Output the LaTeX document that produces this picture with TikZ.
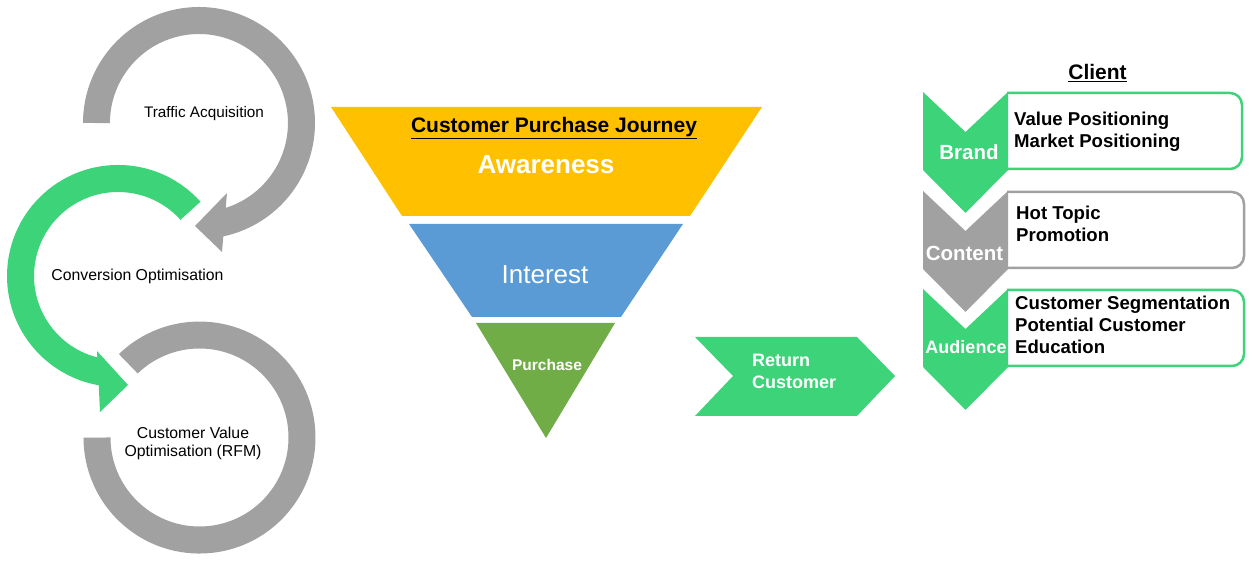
\documentclass[tikz,border=0pt]{standalone}
\usepackage{fontspec}
\setmainfont{Liberation Sans}
\definecolor{cgray}{RGB}{160,161,160}
\definecolor{cgreen}{RGB}{61,211,121}
\definecolor{cyellow}{RGB}{255,192,0}
\definecolor{cblue}{RGB}{91,155,213}
\definecolor{cpgreen}{RGB}{112,173,71}
\begin{document}
\begin{tikzpicture}[x=1pt,y=1pt,
  lbl/.style={inner sep=0pt, font=\fontsize{15.8}{18.5}\selectfont, align=center, text=black},
  wlbl/.style={inner sep=0pt, text=white, align=center},
  boxtxt/.style={inner sep=0pt, anchor=west, align=left, text=black, font=\bfseries\fontsize{18.6}{22}\selectfont},
  infobox/.style={line width=2.5, rounded corners=12}]
\useasboundingbox (0,0) rectangle (1254,561);

% ---- left cycle arrows ----
\fill[cgray] (83,438) arc[start angle=180,end angle=-77.9,radius=116]
  -- (222,309) -- (195,335) -- (227,368) -- (225.7,353.1)
  arc[start angle=-72.5,end angle=180,radius=89] -- cycle;
\fill[cgreen] (200.5,359.3) arc[start angle=42,end angle=260,radius=111]
  -- (100,149) -- (128,176) -- (97,210) -- (97.3,203.6)
  arc[start angle=255.7,end angle=42,radius=84] -- cycle;
\fill[cgray] (118.9,206.9) arc[start angle=134,end angle=-180,radius=116]
  -- (110.5,123.5) arc[start angle=-180,end angle=134,radius=89] -- cycle;

\node[lbl, font=\fontsize{15.3}{18}\selectfont] (ta) at (204,447.5) {Traffic Acquisition};
\node[lbl] (co) at (137.5,284.5) {Conversion Optimisation};
\node[lbl] (cv) at (193,117.5) {Customer Value\\Optimisation (RFM)};

% ---- funnel ----
\fill[cyellow] (331,454) -- (762,454) -- (690,345) -- (402,345) -- cycle;
\fill[cblue] (409,337) -- (683,337) -- (621,244) -- (472,244) -- cycle;
\fill[cpgreen] (476,238) -- (615,238) -- (546,123) -- cycle;

\node[inner sep=0pt, text=black, font=\bfseries\fontsize{21}{25}\selectfont] (title) at (554,433) {\underline{Customer Purchase Journey}};
\node[wlbl, font=\bfseries\fontsize{26}{30}\selectfont] (aw) at (546,396) {Awareness};
\node[wlbl, font=\fontsize{26}{30}\selectfont] (in) at (545,286) {Interest};
\node[wlbl, font=\bfseries\fontsize{15.5}{18}\selectfont] (pu) at (547,196) {Purchase};

% ---- return customer ----
\fill[cgreen] (695,224) -- (857,224) -- (895,185) -- (857,145) -- (695,145) -- (733,185) -- cycle;
\node[wlbl, anchor=west, align=left, font=\bfseries\fontsize{18}{22}\selectfont] (rc) at (752,190) {Return\\Customer};

% ---- client panel ----
\node[inner sep=0pt, text=black, font=\bfseries\fontsize{21}{25}\selectfont] (client) at (1097.5,488) {\underline{Client}};

\draw[infobox, draw=cgreen] (1007,468) -- (1242,468) -- (1242,392) -- (1007,392);
\draw[infobox, draw=cgray] (1007,369) -- (1244,369) -- (1244,293) -- (1007,293);
\draw[infobox, draw=cgreen] (1007,271) -- (1244,271) -- (1244,195) -- (1007,195);

\fill[cgreen] (923,469) -- (965.5,429) -- (1008,469) -- (1008,391) -- (965.5,348) -- (923,391) -- cycle;
\fill[cgray] (923,370) -- (965.5,330) -- (1008,370) -- (1008,292) -- (965.5,249) -- (923,292) -- cycle;
\fill[cgreen] (923,272) -- (965.5,232) -- (1008,272) -- (1008,194) -- (965.5,151) -- (923,194) -- cycle;

\node[wlbl, font=\bfseries\fontsize{20.5}{24}\selectfont] (brand) at (969,409) {Brand};
\node[wlbl, font=\bfseries\fontsize{20.5}{24}\selectfont] (content) at (964.5,308) {Content};
\node[wlbl, font=\bfseries\fontsize{18}{22}\selectfont] (audience) at (966,214) {Audience};

\node[boxtxt] (bt) at (1014,429) {Value Positioning\\Market Positioning};
\node[boxtxt] (ct) at (1016,337) {Hot Topic\\Promotion};
\node[boxtxt] (at) at (1015,236) {Customer Segmentation\\Potential Customer\\Education};
\end{tikzpicture}
\end{document}
